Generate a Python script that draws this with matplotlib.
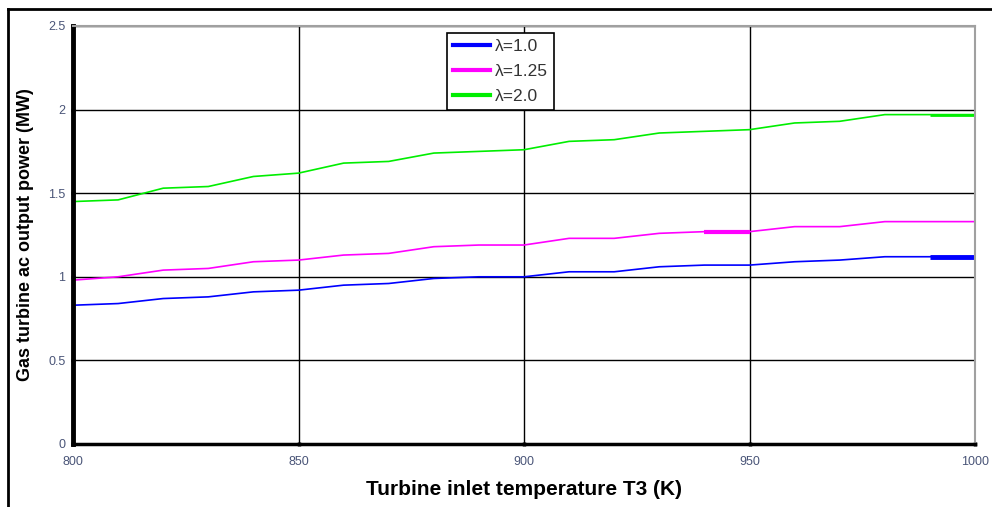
"""Gas turbine output power vs turbine inlet temperature."""

import matplotlib

matplotlib.use("Agg")
import matplotlib.pyplot as plt
from matplotlib.lines import Line2D

plt.rcParams["font.family"] = ["Liberation Sans", "DejaVu Sans"]

temps = [800, 810, 820, 830, 840, 850, 860, 870, 880, 890, 900,
         910, 920, 930, 940, 950, 960, 970, 980, 990, 1000]
power_l100 = [0.83, 0.84, 0.87, 0.88, 0.91, 0.92, 0.95, 0.96, 0.99, 1.00, 1.00,
              1.03, 1.03, 1.06, 1.07, 1.07, 1.09, 1.10, 1.12, 1.12, 1.12]
power_l125 = [0.98, 1.00, 1.04, 1.05, 1.09, 1.10, 1.13, 1.14, 1.18, 1.19, 1.19,
              1.23, 1.23, 1.26, 1.27, 1.27, 1.30, 1.30, 1.33, 1.33, 1.33]
power_l200 = [1.45, 1.46, 1.53, 1.54, 1.60, 1.62, 1.68, 1.69, 1.74, 1.75, 1.76,
              1.81, 1.82, 1.86, 1.87, 1.88, 1.92, 1.93, 1.97, 1.97, 1.97]
labels = ["λ=1.0", "λ=1.25", "λ=2.0"]
colors = ["#0000ff", "#ff00ff", "#00ee00"]

fig = plt.figure(figsize=(9.92, 5.07), dpi=100)
ax = fig.add_axes([73 / 992, 63 / 507, 902 / 992, 418 / 507])

series = [power_l100, power_l125, power_l200]
for vals, lab, col in zip(series, labels, colors):
    ax.plot(temps, vals, color=col, lw=1.2, label=lab)

# thicker artefact segments seen in the source image
ax.plot(temps[19:], power_l100[19:], color=colors[0], lw=3.5, solid_capstyle="butt")
ax.plot(temps[14:16], power_l125[14:16], color=colors[1], lw=3.0, solid_capstyle="butt")
ax.plot(temps[19:], power_l200[19:], color=colors[2], lw=2.0, solid_capstyle="butt")

ax.set_xlim(800, 1000)
ax.set_ylim(0, 2.5)
ax.set_xticks([800, 850, 900, 950, 1000])
ax.set_yticks([0, 0.5, 1, 1.5, 2, 2.5])
ax.set_yticklabels(["0", "0.5", "1", "1.5", "2", "2.5"])
ax.grid(True, color="black", lw=1.0)
ax.set_axisbelow(True)

tick_col = "#4a5578"
ax.tick_params(axis="both", labelsize=9, labelcolor=tick_col, length=3,
               width=2.5, color="black", direction="inout")
ax.tick_params(axis="x", pad=7)
ax.tick_params(axis="y", pad=4)
ax.spines["left"].set_linewidth(3.5)
ax.spines["bottom"].set_linewidth(2.5)
for side in ("top", "right"):
    ax.spines[side].set_color("#a0a0a0")
    ax.spines[side].set_linewidth(1.5)

ax.set_xlabel("Turbine inlet temperature T3 (K)", fontsize=15, fontweight="bold",
              labelpad=9)
ax.set_ylabel("Gas turbine ac output power (MW)", fontsize=13, fontweight="bold",
              labelpad=10)

handles = [Line2D([], [], color=c, lw=3) for c in colors]
leg = ax.legend(handles, labels, loc="upper left", bbox_to_anchor=(0.415, 0.983),
                fontsize=12.5, frameon=True, fancybox=False, handlelength=2.1,
                borderpad=0.35, labelspacing=0.55, handletextpad=0.3,
                borderaxespad=0)
leg.get_frame().set_edgecolor("black")
leg.get_frame().set_linewidth(1.2)
leg.get_frame().set_alpha(1)
for txt in leg.get_texts():
    txt.set_color("#333333")

# outer frame of the source figure (top and left only)
fig.add_artist(Line2D([8 / 992, 1.0], [1 - 9 / 507] * 2, color="black", lw=2,
                      transform=fig.transFigure))
fig.add_artist(Line2D([8 / 992] * 2, [0, 1 - 9 / 507], color="black", lw=2,
                      transform=fig.transFigure))

fig.savefig("out.png", dpi=100)
